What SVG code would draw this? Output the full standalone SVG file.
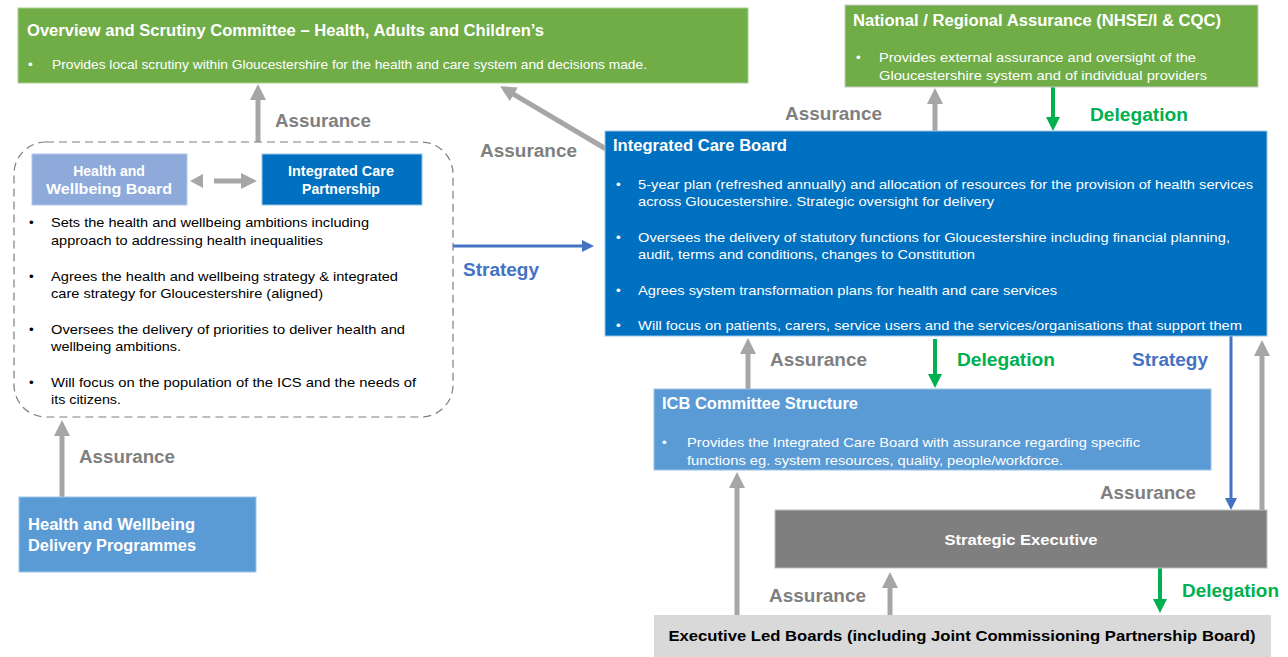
<svg xmlns="http://www.w3.org/2000/svg" width="1288" height="657" viewBox="0 0 1288 657">
<style>
text{font-family:"Liberation Sans",Arial,sans-serif}
.t{fill:#fff;font-weight:bold;font-size:16px}
.w{fill:#fff;font-size:13.5px}
.k{fill:#000;font-size:13.5px}
.lb{font-weight:bold;font-size:18px}
.ga{fill:#7f7f7f}
.gr{fill:#00b050}
.bl{fill:#4472c4}
.ag{stroke:#a6a6a6;stroke-width:5;fill:none}
.agr{stroke:#00b050;stroke-width:4;fill:none}
.abl{stroke:#4472c4;stroke-width:3;fill:none}
</style>
<defs>
<marker id="mg" markerUnits="userSpaceOnUse" markerWidth="16" markerHeight="16" viewBox="0 0 16 16" refX="1" refY="8" orient="auto"><path d="M0,0L16,8L0,16z" fill="#a6a6a6"/></marker>
<marker id="mgr" markerUnits="userSpaceOnUse" markerWidth="14" markerHeight="14" viewBox="0 0 14 14" refX="1" refY="7" orient="auto"><path d="M0,0L14,7L0,14z" fill="#00b050"/></marker>
<marker id="mb" markerUnits="userSpaceOnUse" markerWidth="12" markerHeight="12" viewBox="0 0 12 12" refX="1" refY="6" orient="auto"><path d="M0,0L12,6L0,12z" fill="#4472c4"/></marker>
</defs>

<g id="connectors">
<line class="ag" x1="258" y1="142" x2="258" y2="99" marker-end="url(#mg)"/>
<line class="ag" x1="606" y1="149" x2="513" y2="93.8" marker-end="url(#mg)"/>
<line class="ag" x1="935" y1="131" x2="935" y2="103" marker-end="url(#mg)"/>
<line class="agr" x1="1053" y1="87" x2="1053" y2="118" marker-end="url(#mgr)"/>
<line class="abl" x1="453" y1="246" x2="583" y2="246" marker-end="url(#mb)"/>
<line class="ag" x1="62" y1="497" x2="62" y2="435" marker-end="url(#mg)"/>
<line class="ag" x1="748" y1="389" x2="748" y2="353" marker-end="url(#mg)"/>
<line class="agr" x1="935" y1="339" x2="935" y2="375" marker-end="url(#mgr)"/>
<line class="abl" x1="1231" y1="336" x2="1231" y2="499" marker-end="url(#mb)"/>
<line class="ag" x1="1262" y1="510" x2="1262" y2="355" marker-end="url(#mg)"/>
<line class="ag" x1="737" y1="615" x2="737" y2="487" marker-end="url(#mg)"/>
<line class="ag" x1="890" y1="615" x2="890" y2="587" marker-end="url(#mg)"/>
<line class="agr" x1="1160" y1="568" x2="1160" y2="600" marker-end="url(#mgr)"/>
<path d="M190,181L203,174L203,188z" fill="#a6a6a6"/>
<line class="ag" x1="214" y1="181" x2="242" y2="181" marker-end="url(#mg)"/>
<text class="lb ga" x="275" y="127" textLength="96" lengthAdjust="spacingAndGlyphs">Assurance</text>
<text class="lb ga" x="480" y="157" textLength="97" lengthAdjust="spacingAndGlyphs">Assurance</text>
<text class="lb ga" x="785" y="120" textLength="97" lengthAdjust="spacingAndGlyphs">Assurance</text>
<text class="lb ga" x="770" y="366" textLength="97" lengthAdjust="spacingAndGlyphs">Assurance</text>
<text class="lb ga" x="79" y="463" textLength="96" lengthAdjust="spacingAndGlyphs">Assurance</text>
<text class="lb ga" x="1100" y="499" textLength="96" lengthAdjust="spacingAndGlyphs">Assurance</text>
<text class="lb ga" x="769" y="602" textLength="97" lengthAdjust="spacingAndGlyphs">Assurance</text>
<text class="lb gr" x="1090" y="121" textLength="98" lengthAdjust="spacingAndGlyphs">Delegation</text>
<text class="lb gr" x="957" y="366" textLength="98" lengthAdjust="spacingAndGlyphs">Delegation</text>
<text class="lb gr" x="1182" y="597" textLength="97" lengthAdjust="spacingAndGlyphs">Delegation</text>
<text class="lb bl" x="463" y="276" textLength="76" lengthAdjust="spacingAndGlyphs">Strategy</text>
<text class="lb bl" x="1132" y="366" textLength="76" lengthAdjust="spacingAndGlyphs">Strategy</text>
</g>

<g id="overview">
<rect x="18" y="8" width="730" height="75" fill="#70ad47" stroke="#a9d18e" stroke-width="1"/>
<text class="t" x="27" y="36" textLength="517" lengthAdjust="spacingAndGlyphs">Overview and Scrutiny Committee – Health, Adults and Children’s</text>
<text class="w" x="28" y="69">•</text>
<text class="w" x="52" y="69" textLength="595" lengthAdjust="spacingAndGlyphs">Provides local scrutiny within Gloucestershire for the health and care system and decisions made.</text>
</g>

<g id="national">
<rect x="845" y="5" width="413" height="82" fill="#70ad47" stroke="#c9c9c9" stroke-width="1"/>
<text class="t" x="853" y="26" textLength="368" lengthAdjust="spacingAndGlyphs">National / Regional Assurance (NHSE/I &amp; CQC)</text>
<text class="w" x="856" y="62">•</text>
<text class="w" x="879" y="62" textLength="317" lengthAdjust="spacingAndGlyphs">Provides external assurance and oversight of the</text>
<text class="w" x="879" y="80" textLength="328" lengthAdjust="spacingAndGlyphs">Gloucestershire system and of individual providers</text>
</g>

<g id="icb">
<rect x="605" y="131" width="662" height="205" fill="#0070c0" stroke="#9dc3e6" stroke-width="1"/>
<text class="t" x="613" y="151" textLength="174" lengthAdjust="spacingAndGlyphs">Integrated Care Board</text>
<text class="w" x="616" y="189">•</text>
<text class="w" x="638" y="189" textLength="615" lengthAdjust="spacingAndGlyphs">5-year plan (refreshed annually) and allocation of resources for the provision of health services</text>
<text class="w" x="638" y="206" textLength="356" lengthAdjust="spacingAndGlyphs">across Gloucestershire.  Strategic oversight for delivery</text>
<text class="w" x="616" y="242">•</text>
<text class="w" x="638" y="242" textLength="592" lengthAdjust="spacingAndGlyphs">Oversees the delivery of statutory functions for Gloucestershire including financial planning,</text>
<text class="w" x="638" y="259" textLength="337" lengthAdjust="spacingAndGlyphs">audit, terms and conditions, changes to Constitution</text>
<text class="w" x="616" y="295">•</text>
<text class="w" x="638" y="295" textLength="419" lengthAdjust="spacingAndGlyphs">Agrees system transformation plans for health and care services</text>
<text class="w" x="616" y="330">•</text>
<text class="w" x="638" y="330" textLength="604" lengthAdjust="spacingAndGlyphs">Will focus on patients, carers, service users and the services/organisations that support them</text>
</g>

<g id="hwb-icp-group">
<rect x="14" y="142" width="439" height="275" rx="32" ry="32" fill="none" stroke="#7f7f7f" stroke-width="1.2" stroke-dasharray="8,5"/>
<text class="k" x="29" y="227">•</text>
<text class="k" x="51" y="227" textLength="318" lengthAdjust="spacingAndGlyphs">Sets the health and wellbeing ambitions including</text>
<text class="k" x="51" y="245" textLength="272" lengthAdjust="spacingAndGlyphs">approach to addressing health inequalities</text>
<text class="k" x="29" y="281">•</text>
<text class="k" x="51" y="281" textLength="347" lengthAdjust="spacingAndGlyphs">Agrees the health and wellbeing strategy &amp; integrated</text>
<text class="k" x="51" y="298" textLength="272" lengthAdjust="spacingAndGlyphs">care strategy for Gloucestershire  (aligned)</text>
<text class="k" x="29" y="334">•</text>
<text class="k" x="51" y="334" textLength="354" lengthAdjust="spacingAndGlyphs">Oversees the delivery of priorities to deliver health and</text>
<text class="k" x="51" y="351" textLength="130" lengthAdjust="spacingAndGlyphs">wellbeing ambitions.</text>
<text class="k" x="29" y="387">•</text>
<text class="k" x="51" y="387" textLength="365" lengthAdjust="spacingAndGlyphs">Will focus on the population of the ICS and the needs of</text>
<text class="k" x="51" y="404" textLength="70" lengthAdjust="spacingAndGlyphs">its citizens.</text>
</g>

<g id="hwb">
<rect x="32" y="154" width="155" height="51" fill="#8eaadb" stroke="#b4c7e7" stroke-width="1"/>
<text class="t" x="109" y="176" text-anchor="middle" font-size="14" style="font-size:14px">Health and</text>
<text class="t" x="109" y="194" text-anchor="middle" style="font-size:14px" textLength="126" lengthAdjust="spacingAndGlyphs">Wellbeing Board</text>
</g>

<g id="icp">
<rect x="262" y="154" width="160" height="51" fill="#0070c0" stroke="#9dc3e6" stroke-width="1"/>
<text class="t" x="341" y="176" text-anchor="middle" style="font-size:14px" textLength="106" lengthAdjust="spacingAndGlyphs">Integrated Care</text>
<text class="t" x="341" y="194" text-anchor="middle" style="font-size:14px">Partnership</text>
</g>

<g id="hwb-delivery">
<rect x="19" y="497" width="237" height="75" fill="#5b9bd5" stroke="#9dc3e6" stroke-width="1"/>
<text class="t" x="28" y="530" textLength="167" lengthAdjust="spacingAndGlyphs">Health and Wellbeing</text>
<text class="t" x="28" y="551" textLength="168" lengthAdjust="spacingAndGlyphs">Delivery Programmes</text>
</g>

<g id="icb-committee">
<rect x="654" y="389" width="557" height="81" fill="#5b9bd5" stroke="#9dc3e6" stroke-width="1"/>
<text class="t" x="662" y="409" textLength="196" lengthAdjust="spacingAndGlyphs">ICB Committee Structure</text>
<text class="w" x="662" y="447">•</text>
<text class="w" x="687" y="447" textLength="453" lengthAdjust="spacingAndGlyphs">Provides the Integrated Care Board with assurance regarding specific</text>
<text class="w" x="687" y="465" textLength="376" lengthAdjust="spacingAndGlyphs">functions eg. system resources, quality, people/workforce.</text>
</g>

<g id="strategic-executive">
<rect x="775" y="510" width="492" height="58" fill="#7f7f7f" stroke="#bfbfbf" stroke-width="1"/>
<text class="t" x="1021" y="545" text-anchor="middle" style="font-size:15px" textLength="153" lengthAdjust="spacingAndGlyphs">Strategic Executive</text>
</g>

<g id="executive-led-boards">
<rect x="654" y="615" width="617" height="42" fill="#d9d9d9"/>
<text x="962" y="641" text-anchor="middle" font-weight="bold" font-size="15" fill="#000" textLength="587" lengthAdjust="spacingAndGlyphs">Executive Led Boards (including Joint Commissioning Partnership Board)</text>
</g>
</svg>
